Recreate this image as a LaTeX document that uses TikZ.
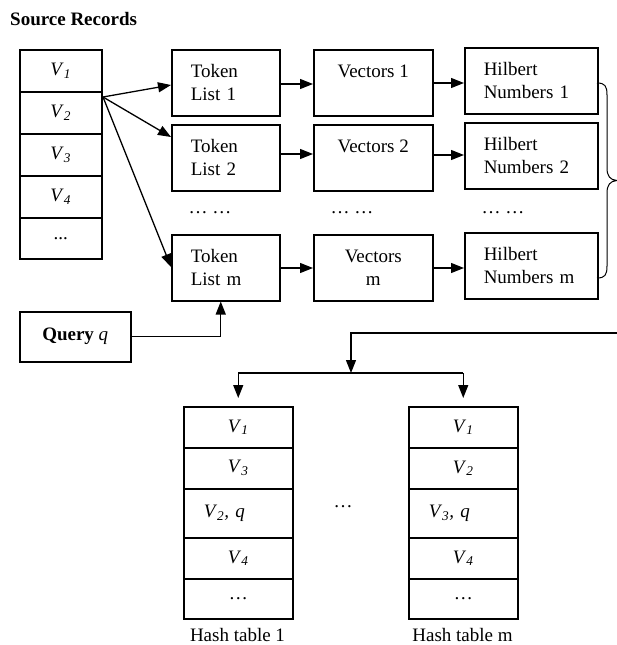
\documentclass[tikz,border=0pt]{standalone}
\usepackage{fontspec}
\setmainfont{Liberation Serif}
\usetikzlibrary{arrows.meta,calc}
\newcommand{\Vs}[1]{\textit{V}\textsubscript{\textit{#1}}}
\begin{document}
\begin{tikzpicture}[x=1pt,y=-1pt,
  font=\fontsize{19}{23}\selectfont,
  box/.style={draw,line width=1.5pt,inner sep=0pt,anchor=north west},
  cell/.style={box,minimum width=82pt},
  hcell/.style={box,minimum width=109pt},
  tok/.style={box,minimum width=108pt,minimum height=66pt,text width=70pt,align=left},
  vec/.style={box,minimum width=119pt,minimum height=66pt,align=center},
  hil/.style={box,minimum width=133pt,minimum height=66pt,text width=95pt,align=left},
  arr/.style={line width=1.3pt,-{Triangle[length=13pt,width=10pt]}},
  plain/.style={inner sep=0pt}]
\useasboundingbox (0,0) rectangle (617,645);

\node[plain,anchor=west] (title) at (10,19) {\textbf{Source Records}};

% source column
\node[cell,minimum height=42pt] (s1) at (19,49) {\Vs{1}};
\node[cell,minimum height=42pt] (s2) at (19,91) {\Vs{2}};
\node[cell,minimum height=42pt] (s3) at (19,133) {\Vs{3}};
\node[cell,minimum height=42pt] (s4) at (19,175) {\Vs{4}};
\node[cell,minimum height=41pt] (s5) at (19,217) {...};

% token lists
\node[tok] (t1) at (171,49) {Token\\List 1};
\node[tok] (t2) at (171,124) {Token\\List 2};
\node[tok] (tm) at (171,234) {Token\\List m};

% vectors
\node[vec] (v1) at (313,49) {Vectors 1\\\mbox{}};
\node[vec] (v2) at (313,124) {Vectors 2\\\mbox{}};
\node[vec] (vm) at (313,234) {Vectors\\m};

% hilbert
\node[hil] (h1) at (464,47) {Hilbert\\Numbers 1};
\node[hil] (h2) at (464,122) {Hilbert\\Numbers 2};
\node[hil] (hm) at (464,232) {Hilbert\\Numbers m};

% dots
\node[plain] (dt) at (210,213) {… …};
\node[plain] (dv) at (352,213) {… …};
\node[plain] (dh) at (503,213) {… …};

% query
\node[box,minimum width=111pt,minimum height=50pt] (q) at (19,311) {\textbf{Query} \textit{q}};

% fan arrows
\coordinate (fan) at (103,97);
\draw[arr] (fan) -- ($(t1.north west)+(0,36)$);
\draw[arr] (fan) -- ($(t2.north west)+(0,13)$);
\draw[arr] (fan) -- ($(tm.north west)+(0,33)$);

% row arrows
\draw[arr] ($(t1.north east)+(0,35)$) -- ($(v1.north west)+(0,35)$);
\draw[arr] ($(t2.north east)+(0,30)$) -- ($(v2.north west)+(0,30)$);
\draw[arr] ($(tm.north east)+(0,34)$) -- ($(vm.north west)+(0,34)$);
\draw[arr] ($(v1.north east)+(0,34)$) -- ($(h1.north west)+(0,36)$);
\draw[arr] ($(v2.north east)+(0,31)$) -- ($(h2.north west)+(0,33)$);
\draw[arr] ($(vm.north east)+(0,34)$) -- ($(hm.north west)+(0,36)$);

% query arrow
\draw[arr] (q.east) -| ($(tm.south)+(-5,0)$);

% brace
\draw[line width=1pt] (597,83) .. controls (605,83) and (607,86) .. (607,95)
  -- (607,168) .. controls (607,176) and (610,180) .. (617,180.5)
  .. controls (610,181) and (607,185) .. (607,193)
  -- (607,266) .. controls (607,275) and (605,278) .. (597,278);

% hash tables
\node[hcell,minimum height=41pt] (a1) at (183,406) {\Vs{1}};
\node[hcell,minimum height=41pt] (a2) at (183,447) {\Vs{3}};
\node[hcell,minimum height=49pt,text width=69pt,align=left] (a3) at (183,488) {\Vs{2}\textit{, q}};
\node[hcell,minimum height=41pt] (a4) at (183,537) {\Vs{4}};
\node[hcell,minimum height=40pt] (a5) at (183,578) {…};

\node[hcell,minimum height=41pt] (b1) at (408,406) {\Vs{1}};
\node[hcell,minimum height=41pt] (b2) at (408,447) {\Vs{2}};
\node[hcell,minimum height=49pt,text width=69pt,align=left] (b3) at (408,488) {\Vs{3}\textit{, q}};
\node[hcell,minimum height=41pt] (b4) at (408,537) {\Vs{4}};
\node[hcell,minimum height=40pt] (b5) at (408,578) {…};

\node[plain] (mid) at (343,507) {…};
\node[plain,anchor=base] (l1) at (237.5,641) {Hash table 1};
\node[plain,anchor=base] (lm) at (462.5,641) {Hash table m};

% distribution
\coordinate (edge) at (617,333);
\coordinate (split) at (351,373);
\draw[arr] (edge) -| (split);
\draw[line width=1.3pt] (a1.north |- split) -- (b1.north |- split);
\draw[arr,shorten >=8pt] (a1.north |- split) -- (a1.north);
\draw[arr,shorten >=8pt] (b1.north |- split) -- (b1.north);
\end{tikzpicture}
\end{document}
